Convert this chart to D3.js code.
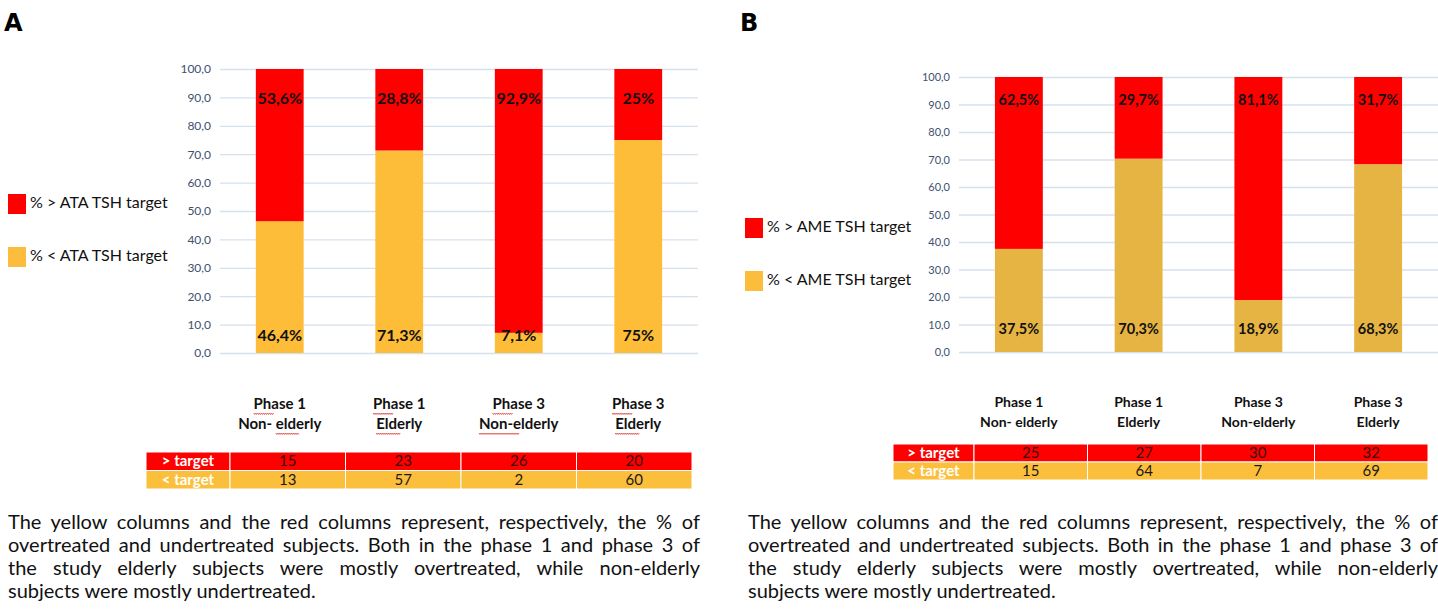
<!DOCTYPE html>
<html>
<head>
<meta charset="utf-8">
<script src="https://cdn.jsdelivr.net/npm/d3@7"></script>
<style>
  body { margin: 0; background: #fff; }
  #wrap { position: relative; width: 1438px; height: 611px; overflow: hidden; }
  svg { position: absolute; left: 0; top: 0; }
  .caption { position: absolute; font-family: Lato, "Open Sans", sans-serif; font-size: 20px;
    line-height: 23px; color: #111; }
  .caption div { text-align: justify; text-align-last: justify; white-space: nowrap; }
  .caption div.last { text-align-last: left; }
</style>
</head>
<body>
<div id="wrap">
  <svg id="chart" width="1438" height="611"></svg>
</div>
<script>
// data
const line1 = ["Phase 1", "Phase 1", "Phase 3", "Phase 3"];
const line2A = ["Non- elderly", "Elderly", "Non-elderly", "Elderly"];
const line2B = ["Non- elderly", "Elderly", "Non-elderly", "Elderly"];
const aboveA = [53.6, 28.8, 92.9, 25];
const belowA = [46.4, 71.3, 7.1, 75];
const aboveB = [62.5, 29.7, 81.1, 31.7];
const belowB = [37.5, 70.3, 18.9, 68.3];
const aboveLabA = ["53,6%", "28,8%", "92,9%", "25%"];
const belowLabA = ["46,4%", "71,3%", "7,1%", "75%"];
const aboveLabB = ["62,5%", "29,7%", "81,1%", "31,7%"];
const belowLabB = ["37,5%", "70,3%", "18,9%", "68,3%"];
const countAboveA = [15, 23, 26, 20];
const countBelowA = [13, 57, 2, 60];
const countAboveB = [25, 27, 30, 32];
const countBelowB = [15, 64, 7, 69];
const yTicks = d3.range(0, 101, 10);
const captionLines = [
  "The yellow columns and the red columns represent, respectively, the % of",
  "overtreated and undertreated subjects. Both in the phase 1 and phase 3 of",
  "the study elderly subjects were mostly overtreated, while non-elderly",
  "subjects were mostly undertreated."
];

const RED = "#ff0000";
const font = "Lato, 'Open Sans', sans-serif";
const svg = d3.select("#chart");

function panel(o) {
  const g = svg.append("g");
  const cats = o.line1.map((d, i) => i);
  const x = d3.scaleBand().domain(cats).range([o.x0, o.x1]).paddingInner(0.6).paddingOuter(0.3);
  const y = d3.scaleLinear().domain([0, 100]).range([o.y0, o.y1]);

  // panel letter
  g.append("text").attr("x", o.letterX).attr("y", 31)
    .attr("font-family", "'DejaVu Sans', sans-serif").attr("font-weight", "bold")
    .attr("font-size", 24).text(o.letter);

  // axis + gridlines
  const ax = g.append("g").attr("transform", `translate(${o.x0},0)`)
    .call(d3.axisLeft(y).tickValues(yTicks).tickSize(-(o.x1 - o.x0)).tickPadding(9)
      .tickFormat(d => d.toFixed(1).replace(".", ",")));
  ax.select(".domain").remove();
  ax.selectAll(".tick line").attr("stroke", "#d6e1ee").attr("stroke-width", 1.3);
  ax.selectAll(".tick text").attr("fill", "#3d5170").attr("font-family", font)
    .attr("font-size", o.tickSize);

  // stacked bars
  const rows = cats.map(i => ({ i, below: o.below[i], above: o.above[i] }));
  const series = d3.stack().keys(["below", "above"])(rows);
  const colors = { below: o.yellow, above: RED };
  g.selectAll("g.s").data(series).join("g").attr("fill", s => colors[s.key])
    .selectAll("rect").data(s => s).join("rect")
    .attr("x", d => x(d.data.i)).attr("width", x.bandwidth())
    .attr("y", d => y(Math.min(100, d[1]))).attr("height", d => y(d[0]) - y(Math.min(100, d[1])));

  // value labels
  const lab = (arr, v) => g.selectAll(null).data(arr).join("text")
    .attr("x", (d, i) => x(i) + x.bandwidth() / 2).attr("y", y(v))
    .attr("text-anchor", "middle").attr("dominant-baseline", "middle")
    .attr("font-family", font).attr("font-weight", "bold").attr("font-size", o.valSize)
    .attr("fill", "#111").text(d => d);
  lab(o.aboveLab, o.topPos);
  lab(o.belowLab, o.botPos);

  // legend
  const lg = g.append("g");
  [["% > " + o.org + " TSH target", RED, o.legY[0]], ["% < " + o.org + " TSH target", "#fbbd3b", o.legY[1]]]
    .forEach(([t, c, yy]) => {
      lg.append("rect").attr("x", o.legX).attr("y", yy - 10).attr("width", 18).attr("height", 20).attr("fill", c);
      lg.append("text").attr("x", o.legX + 22).attr("y", yy).attr("dominant-baseline", "middle")
        .attr("font-family", font).attr("font-size", 16).attr("fill", "#111").text(t);
    });

  // category labels
  const cl = g.selectAll(null).data(cats).join("text")
    .attr("text-anchor", "middle").attr("font-family", font).attr("font-weight", "bold")
    .attr("font-size", o.catSize).attr("fill", "#111");
  cl.append("tspan").attr("x", i => x(i) + x.bandwidth() / 2).attr("y", o.catY).text(i => o.line1[i]);
  cl.append("tspan").attr("x", i => x(i) + x.bandwidth() / 2).attr("y", o.catY + 20).text(i => o.line2[i]);

  if (o.squiggle) {
    cl.each(function (i) {
      const t = this;
      const marks = [[0, 5, o.catY]];
      const l2 = o.line2[i];
      const start = l2.startsWith("Non- ") ? 5 : 0;
      marks.push([o.line1[i].length + start, l2.length - start, o.catY + 20]);
      marks.forEach(([s, n, by]) => {
        const sx = t.getStartPositionOfChar(s).x;
        const w = t.getSubStringLength(s, n);
        let p = `M${sx},${by + 4}`;
        for (let k = 0; k < w; k += 2) p += `l1,${(k / 2) % 2 ? -1.5 : 1.5}`;
        g.append("path").attr("d", p).attr("fill", "none").attr("stroke", "#e0443e").attr("stroke-width", 0.8);
      });
    });
  }

  // count table
  const cw = (o.tEnd - o.tLab) / 4;
  const tg = g.append("g").attr("font-family", font);
  [[o.countAbove, RED, "> target", "#3a0a0a"], [o.countBelow, "#fcbf3c", "< target", "#1a1a1a"]]
    .forEach(([vals, c, name, tc], r) => {
      const ry = o.tY + r * o.rowH;
      tg.append("rect").attr("x", o.tX).attr("y", ry).attr("width", o.tLab - o.tX).attr("height", o.rowH)
        .attr("fill", c).attr("stroke", "#fff").attr("stroke-width", 1);
      tg.append("text").attr("x", (o.tX + o.tLab) / 2).attr("y", ry + o.rowH / 2 + 1)
        .attr("text-anchor", "middle").attr("dominant-baseline", "middle").attr("font-weight", "bold")
        .attr("font-size", 15).attr("fill", "#fff").text(name);
      tg.selectAll(null).data(vals).join("rect")
        .attr("x", (d, i) => o.tLab + i * cw).attr("y", ry).attr("width", cw).attr("height", o.rowH)
        .attr("fill", c).attr("stroke", "#fff").attr("stroke-width", 1);
      tg.selectAll(null).data(vals).join("text")
        .attr("x", (d, i) => o.tLab + i * cw + cw / 2).attr("y", ry + o.rowH / 2 + 1)
        .attr("text-anchor", "middle").attr("dominant-baseline", "middle")
        .attr("font-size", 15).attr("fill", tc).text(d => d);
    });

  d3.select("#wrap").append("div").attr("class", "caption")
    .style("left", o.capX + "px").style("top", "510px").style("width", o.capW + "px")
    .selectAll("div").data(captionLines).join("div")
    .classed("last", (d, i) => i === captionLines.length - 1).text(d => d);
}

panel({
  letter: "A", letterX: 4, org: "ATA",
  x0: 220, x1: 698, y0: 353, y1: 69, yellow: "#fdbd38",
  line1, line2: line2A, above: aboveA, below: belowA,
  aboveLab: aboveLabA, belowLab: belowLabA, topPos: 89, botPos: 5.5,
  tickSize: 12, valSize: 16, catSize: 15, catY: 409, squiggle: true,
  legX: 8, legY: [204, 257],
  countAbove: countAboveA, countBelow: countBelowA,
  tX: 146, tLab: 230, tEnd: 692, tY: 452, rowH: 18.5,
  capX: 8, capW: 692
});

panel({
  letter: "B", letterX: 740, org: "AME",
  x0: 959, x1: 1438, y0: 352, y1: 77, yellow: "#e6b443",
  line1, line2: line2B, above: aboveB, below: belowB,
  aboveLab: aboveLabB, belowLab: belowLabB, topPos: 91, botPos: 8,
  tickSize: 11, valSize: 14.5, catSize: 14, catY: 407, squiggle: false,
  legX: 745, legY: [228, 281],
  countAbove: countAboveB, countBelow: countBelowB,
  tX: 893, tLab: 974, tEnd: 1428, tY: 444, rowH: 18,
  capX: 748, capW: 690
});
</script>
</body>
</html>
